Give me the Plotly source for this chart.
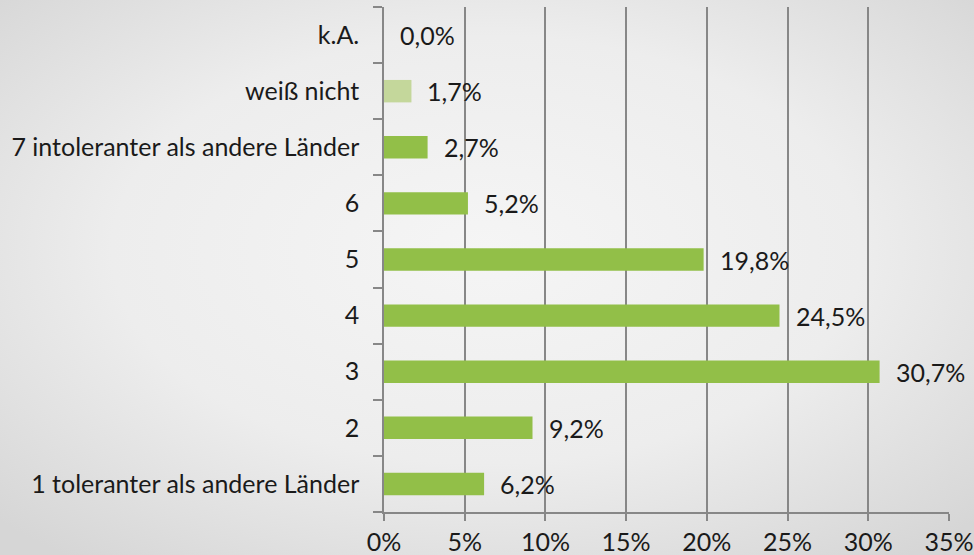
import plotly.graph_objects as go

# Data (bottom to top, as drawn)
categories = [
    "1 toleranter als andere Länder",
    "2",
    "3",
    "4",
    "5",
    "6",
    "7 intoleranter als andere Länder",
    "weiß nicht",
    "k.A.",
]
values = [6.2, 9.2, 30.7, 24.5, 19.8, 5.2, 2.7, 1.7, 0.0]
x_ticks = [0, 5, 10, 15, 20, 25, 30, 35]

GREEN = "#92bf48"
LIGHT_GREEN = "#c4d79b"
GRID = "#878787"
FONT = "Lato"
FS = 25

bar_colors = [LIGHT_GREEN if c == "weiß nicht" else GREEN for c in categories]
labels = [f"{v:.1f}%".replace(".", ",") for v in values]

W, H = 974, 555
margin = dict(l=384, r=25, t=7, b=43)
plot_w = W - margin["l"] - margin["r"]
plot_h = H - margin["t"] - margin["b"]

# soft radial gradient background (slide look)
bg_svg = (
    "data:image/svg+xml;utf8,"
    "<svg xmlns='http://www.w3.org/2000/svg' width='974' height='555'>"
    "<defs><radialGradient id='g' cx='50%25' cy='45%25' r='70%25'>"
    "<stop offset='0%25' stop-color='%23f5f5f5'/>"
    "<stop offset='55%25' stop-color='%23ededed'/>"
    "<stop offset='100%25' stop-color='%23d6d6d6'/>"
    "</radialGradient></defs>"
    "<rect width='974' height='555' fill='url(%23g)'/></svg>"
)

fig = go.Figure(
    go.Bar(
        x=values,
        y=categories,
        orientation="h",
        marker=dict(color=bar_colors, line=dict(width=0)),
        width=0.4,
        hoverinfo="skip",
    )
)

# value labels; y given as category index so "2", "6" etc. aren't misread
for i, (v, t) in enumerate(zip(values, labels)):
    fig.add_annotation(
        x=v, y=i, text=t, showarrow=False,
        xanchor="left", xshift=14,
        font=dict(family=FONT, size=FS, color="#1a1a1a"),
    )

fig.add_layout_image(
    source=bg_svg,
    xref="paper", yref="paper",
    x=-margin["l"] / plot_w, y=1 + margin["t"] / plot_h,
    sizex=W / plot_w, sizey=H / plot_h,
    sizing="stretch", layer="below",
    xanchor="left", yanchor="top",
)

fig.update_layout(
    width=W,
    height=H,
    margin=margin,
    paper_bgcolor="#e8e8e8",
    plot_bgcolor="rgba(0,0,0,0)",
    showlegend=False,
    font=dict(family=FONT, size=FS, color="#1a1a1a"),
    xaxis=dict(
        range=[0, 35],
        tickvals=x_ticks,
        ticktext=[f"{t}%" for t in x_ticks],
        showgrid=True,
        gridcolor=GRID,
        gridwidth=1.5,
        zeroline=False,
        showline=True,
        linecolor=GRID,
        linewidth=1.5,
        ticks="outside",
        ticklen=7,
        tickwidth=1.5,
        tickcolor=GRID,
        automargin=False,
        fixedrange=True,
    ),
    yaxis=dict(
        categoryorder="array",
        categoryarray=categories,
        range=[-0.5, len(categories) - 0.5],
        showline=True,
        linecolor=GRID,
        linewidth=1.5,
        ticks="outside",
        tickson="boundaries",
        ticklen=9,
        tickwidth=1.5,
        tickcolor=GRID,
        ticklabelstandoff=18,
        showgrid=False,
        automargin=False,
        fixedrange=True,
    ),
)

# drop the browser's default 8px body margin so the figure fills the window
fig.write_html(
    "out.html",
    config={"displayModeBar": False},
    post_script="document.body.style.margin='0';",
)
